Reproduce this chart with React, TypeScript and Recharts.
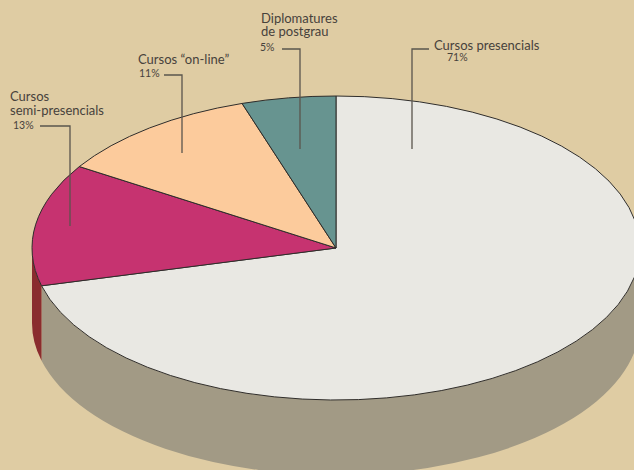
import { Pie, PieChart, Cell } from "recharts";

const categories = ["Cursos presencials", "Cursos semi-presencials", "Cursos “on-line”", "Diplomatures de postgrau"];
const shares = [71, 13, 11, 5];
const topColors = ["#e9e8e3", "#c63370", "#fccb9c", "#679490"];
const wallColors = ["#a29a85", "#8a2c2e", "#c9a27c", "#4f7370"];

const data = categories.map((name, i) => ({ name, value: shares[i] }));

const WIDTH = 634;
const HEIGHT = 470;
const TILT = 0.5; // ellipse height / width
const DEPTH = 75;
const TEXT = "#47423c";
const LEADER = "#5a554d";
const FONT = "Lato, sans-serif";

// flattened pie slice with its side wall, angles come from the Pie layout
function TiltedSlice(props: any) {
    const { cx, cy, outerRadius, startAngle, endAngle, fill, index } = props;
    const rx = outerRadius;
    const ry = outerRadius * TILT;
    const pt = (deg: number) => {
        const a = (deg * Math.PI) / 180;
        return [cx + rx * Math.cos(a), cy - ry * Math.sin(a)];
    };
    const [x0, y0] = pt(startAngle);
    const [x1, y1] = pt(endAngle);
    const large = startAngle - endAngle > 180 ? 1 : 0;
    const top = `M${cx},${cy} L${x0},${y0} A${rx},${ry} 0 ${large} 1 ${x1},${y1} Z`;

    // only the front half of the rim shows a wall
    const lo = Math.min(startAngle, 0);
    const hi = Math.max(endAngle, -180);
    let wall = null;
    if (lo > hi) {
        const [wx0, wy0] = pt(lo);
        const [wx1, wy1] = pt(hi);
        wall = `M${wx0},${wy0} A${rx},${ry} 0 0 1 ${wx1},${wy1} L${wx1},${wy1 + DEPTH} A${rx},${ry} 0 0 0 ${wx0},${wy0 + DEPTH} Z`;
    }
    return (
        <g>
            {wall && <path d={wall} fill={wallColors[index]} stroke="none" />}
            <path d={top} fill={fill} stroke="#2f2d2b" strokeWidth={1} strokeLinejoin="round" />
        </g>
    );
}

function Label({ x, y, size = 13, children }: { x: number; y: number; size?: number; children: string }) {
    return (
        <text x={x} y={y} fontSize={size} fill={TEXT} fontFamily={FONT}>
            {children}
        </text>
    );
}

export default function App() {
    return (
        <div style={{ position: "absolute", left: 0, top: 0, width: WIDTH, height: HEIGHT, overflow: "hidden", background: "#dfcca3" }}>
            <PieChart width={WIDTH} height={HEIGHT} margin={{ top: 0, right: 0, bottom: 0, left: 0 }}>
                <Pie
                    data={data}
                    dataKey="value"
                    nameKey="name"
                    cx={336}
                    cy={248}
                    innerRadius={0}
                    outerRadius={304}
                    startAngle={90}
                    endAngle={-270}
                    paddingAngle={0}
                    shape={TiltedSlice}
                    isAnimationActive={false}
                >
                    {data.map((d, i) => (
                        <Cell key={d.name} fill={topColors[i]} />
                    ))}
                </Pie>
            </PieChart>

            {/* leaders and labels sit above the pie layer */}
            <svg width={WIDTH} height={HEIGHT} style={{ position: "absolute", left: 0, top: 0 }}>
                <polyline points="40,126 70,126 70,226" fill="none" stroke={LEADER} strokeWidth={1.3} />
                <polyline points="164,75 182,75 182,153" fill="none" stroke={LEADER} strokeWidth={1.3} />
                <polyline points="282,49 300,49 300,149" fill="none" stroke={LEADER} strokeWidth={1.3} />
                <polyline points="429,49 412,49 412,149" fill="none" stroke={LEADER} strokeWidth={1.3} />

                <Label x={10} y={101}>Cursos</Label>
                <Label x={10} y={115}>semi-presencials</Label>
                <Label x={13} y={129} size={10.5}>13%</Label>
                <Label x={138} y={64}>Cursos “on-line”</Label>
                <Label x={139} y={77} size={10.5}>11%</Label>
                <Label x={261} y={23}>Diplomatures</Label>
                <Label x={261} y={36}>de postgrau</Label>
                <Label x={260} y={51} size={10.5}>5%</Label>
                <Label x={434} y={50}>Cursos presencials</Label>
                <Label x={447} y={61} size={10.5}>71%</Label>
            </svg>
        </div>
    );
}
